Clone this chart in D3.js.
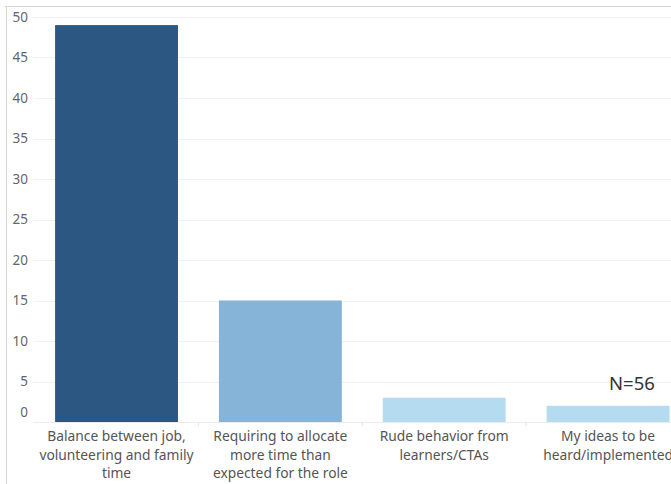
<!DOCTYPE html>
<html>
<head>
<meta charset="utf-8">
<script src="https://cdn.jsdelivr.net/npm/d3@7"></script>
<style>
  body { margin: 0; background: #fff; }
  svg { display: block; font-family: "Noto Sans", "Open Sans", sans-serif; }
</style>
</head>
<body>
<script>
// chart data
var categories = [
    ["Balance between job,", "volunteering and family", "time"],
    ["Requiring to allocate", "more time than", "expected for the role"],
    ["Rude behavior from", "learners/CTAs"],
    ["My ideas to be", "heard/implemented"]
];
var values = [49, 15, 3, 2];
var barColors = ["#2b5782", "#86b4d9", "#b5dbf0", "#b5dbf0"];
var yTicks = [0, 5, 10, 15, 20, 25, 30, 35, 40, 45, 50];
var noteText = "N=56";

var width = 671, height = 484;
var baseY = 422, topY = 17;

var svg = d3.select("body").append("svg")
    .attr("width", width)
    .attr("height", height);

var keys = categories.map(function(d, i) { return "c" + i; });

var x = d3.scaleBand()
    .domain(keys)
    .range([34.6, 690])
    .paddingInner(0.25)
    .paddingOuter(0.125);

var y = d3.scaleLinear()
    .domain([0, 50])
    .range([baseY, topY]);

// frame
svg.append("line")
    .attr("x1", 5).attr("x2", width)
    .attr("y1", 6.5).attr("y2", 6.5)
    .attr("stroke", "#d4d4d4");
svg.append("line")
    .attr("x1", 6.5).attr("x2", 6.5)
    .attr("y1", 6).attr("y2", height)
    .attr("stroke", "#d4d4d4");

// gridlines
svg.append("g").selectAll("line")
    .data(yTicks.filter(function(t) { return t > 0; }))
    .enter().append("line")
    .attr("x1", 33).attr("x2", width)
    .attr("y1", function(d) { return Math.round(y(d)) + 0.5; })
    .attr("y2", function(d) { return Math.round(y(d)) + 0.5; })
    .attr("stroke", "#f2f2f2");

// y labels
svg.append("g").selectAll("text")
    .data(yTicks)
    .enter().append("text")
    .attr("x", 28)
    .attr("y", function(d) { return d == 0 ? y(d) - 10 : y(d); })
    .attr("dy", "0.35em")
    .attr("text-anchor", "end")
    .attr("fill", "#666")
    .attr("font-size", 13.5)
    .text(function(d) { return d; });

// bars
svg.append("g").selectAll("rect")
    .data(values)
    .enter().append("rect")
    .attr("x", function(d, i) { return x(keys[i]); })
    .attr("y", function(d) { return y(d); })
    .attr("width", x.bandwidth())
    .attr("height", function(d) { return baseY - y(d); })
    .attr("fill", function(d, i) { return barColors[i]; });

// baseline
svg.append("line")
    .attr("x1", 33).attr("x2", width)
    .attr("y1", baseY + 0.5).attr("y2", baseY + 0.5)
    .attr("stroke", "#ececec");

// small ticks between categories
svg.append("g").selectAll("line")
    .data(keys.slice(1))
    .enter().append("line")
    .attr("x1", function(d) { return x(d) - x.step() * x.paddingInner() / 2; })
    .attr("x2", function(d) { return x(d) - x.step() * x.paddingInner() / 2; })
    .attr("y1", baseY).attr("y2", baseY + 4)
    .attr("stroke", "#e4e4e4");

// category labels
var labels = svg.append("g").selectAll("text")
    .data(categories)
    .enter().append("text")
    .attr("x", function(d, i) { return x(keys[i]) + x.bandwidth() / 2; })
    .attr("y", 441)
    .attr("text-anchor", "middle")
    .attr("fill", "#555")
    .attr("font-size", 13.8);

labels.selectAll("tspan")
    .data(function(d) { return d; })
    .enter().append("tspan")
    .attr("x", function() { return d3.select(this.parentNode).attr("x"); })
    .attr("dy", function(d, i) { return i == 0 ? 0 : 18.5; })
    .text(function(d) { return d; });

// note
svg.append("text")
    .attr("x", 609)
    .attr("y", 390)
    .attr("fill", "#333")
    .attr("font-size", 18.5)
    .text(noteText);
</script>
</body>
</html>
